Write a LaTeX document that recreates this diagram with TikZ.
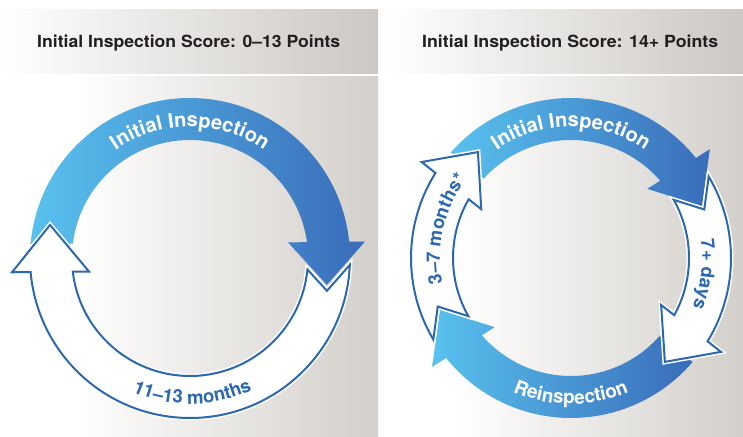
\documentclass[tikz,border=0pt]{standalone}
\usepackage{fontspec}
\usepackage{graphicx}
\newfontfamily\heros{TeX Gyre Heros}
\usetikzlibrary{decorations.text}
\definecolor{hdgray}{RGB}{204,200,195}
\definecolor{bdgray}{RGB}{211,207,202}
\definecolor{blueL}{RGB}{88,194,238}
\definecolor{blueD}{RGB}{58,108,186}
\definecolor{outl}{RGB}{44,104,176}
\definecolor{hdtext}{RGB}{35,31,32}
\pgfdeclarehorizontalshading{hdshade}{100bp}{color(0bp)=(white); color(25bp)=(white); color(75bp)=(hdgray); color(100bp)=(hdgray)}
\pgfdeclarehorizontalshading{bdshade}{100bp}{color(0bp)=(white); color(35bp)=(white); color(75bp)=(bdgray); color(100bp)=(bdgray)}
\newcommand\RingO{1.60}
\newcommand\RingI{1.18}
% intersection of line P + s n with circles
\newcommand\hcut[6]{%
 \pgfmathsetmacro\hcPn{(#1)*(\hnx)+(#2)*(\hny)}%
 \pgfmathsetmacro\hcPP{(#1)*(#1)+(#2)*(#2)}%
 \pgfmathsetmacro\hcS{0-(\hcPn)+sqrt((\hcPn)*(\hcPn)-(\hcPP)+\RingO*\RingO)}%
 \pgfmathsetmacro\hcA{atan2((#2)+(\hcS)*(\hny),(#1)+(\hcS)*(\hnx))}%
 \pgfmathsetmacro\hcA{(\hcA)-360*round(((\hcA)-(#3))/360)}%
 \expandafter\xdef\csname #6#4\endcsname{\hcA}%
 \pgfmathsetmacro\hcS{0-(\hcPn)+sqrt((\hcPn)*(\hcPn)-(\hcPP)+\RingI*\RingI)}%
 \pgfmathsetmacro\hcA{atan2((#2)+(\hcS)*(\hny),(#1)+(\hcS)*(\hnx))}%
 \pgfmathsetmacro\hcA{(\hcA)-360*round(((\hcA)-(#3))/360)}%
 \expandafter\xdef\csname #6#5\endcsname{\hcA}%
}
% notch corner: line N + t (b - T) with circle R
\newcommand\hnotch[7]{%
 \pgfmathsetmacro\hvx{(#1)-(\hTx)}%
 \pgfmathsetmacro\hvy{(#2)-(\hTy)}%
 \pgfmathsetmacro\hqa{(\hvx)*(\hvx)+(\hvy)*(\hvy)}%
 \pgfmathsetmacro\hqb{(\hNx)*(\hvx)+(\hNy)*(\hvy)}%
 \pgfmathsetmacro\hqc{(\hNx)*(\hNx)+(\hNy)*(\hNy)-(#3)*(#3)}%
 \pgfmathsetmacro\hqt{(0-(\hqb) #4 sqrt((\hqb)*(\hqb)-(\hqa)*(\hqc)))/(\hqa)}%
 \pgfmathsetmacro\hcA{atan2((\hNy)+(\hqt)*(\hvy),(\hNx)+(\hqt)*(\hvx))}%
 \pgfmathsetmacro\hcA{(\hcA)-360*round(((\hcA)-(#7))/360)}%
 \expandafter\xdef\csname #6#5\endcsname{\hcA}%
}
% #1 name #2 base angle #3 base r #4 tip angle #5 tip r #6 half width #7 gap #8 cut fraction
\newcommand\mkhead[8]{%
 \pgfmathsetmacro\hBx{(#3)*cos(#2)}%
 \pgfmathsetmacro\hBy{(#3)*sin(#2)}%
 \pgfmathsetmacro\hTx{(#5)*cos(#4)}%
 \pgfmathsetmacro\hTy{(#5)*sin(#4)}%
 \pgfmathsetmacro\hdx{(\hTx)-(\hBx)}%
 \pgfmathsetmacro\hdy{(\hTy)-(\hBy)}%
 \pgfmathsetmacro\hL{sqrt((\hdx)*(\hdx)+(\hdy)*(\hdy))}%
 \pgfmathsetmacro\hux{(\hdx)/(\hL)}%
 \pgfmathsetmacro\huy{(\hdy)/(\hL)}%
 \pgfmathsetmacro\hnx{0-(\huy)}%
 \pgfmathsetmacro\hny{\hux}%
 \pgfmathsetmacro\hOx{(\hBx)+(#6)*(\hnx)}%
 \pgfmathsetmacro\hOy{(\hBy)+(#6)*(\hny)}%
 \pgfmathsetmacro\hIx{(\hBx)-(#6)*(\hnx)}%
 \pgfmathsetmacro\hIy{(\hBy)-(#6)*(\hny)}%
 \coordinate (#1-bo) at ({100*(\hOx)},{100*(\hOy)});%
 \coordinate (#1-bi) at ({100*(\hIx)},{100*(\hIy)});%
 \coordinate (#1-T) at ({100*(\hTx)},{100*(\hTy)});%
 \hcut{\hBx}{\hBy}{#2}{Eo}{Ei}{#1}%
 \pgfmathsetmacro\hMx{(\hBx)+(#8)*(\hdx)}%
 \pgfmathsetmacro\hMy{(\hBy)+(#8)*(\hdy)}%
 \hcut{\hMx}{\hMy}{((#2)+(#4))/2}{Fo}{Fi}{#1}%
 \pgfmathsetmacro\hNx{(\hTx)+(#7)*(\hux)}%
 \pgfmathsetmacro\hNy{(\hTy)+(#7)*(\huy)}%
 \coordinate (#1-N) at ({100*(\hNx)},{100*(\hNy)});%
 \hnotch{\hOx}{\hOy}{\RingO}{+}{Co}{#1}{#4}%
 \hnotch{\hIx}{\hIy}{\RingI}{-}{Ci}{#1}{#4}%
}
\newcommand\whitetxt{\heros\bfseries\fontsize{20}{24}\selectfont\color{white}}
\newcommand\whitetxtb{\heros\bfseries\fontsize{19}{23}\selectfont\color{white}}
\newcommand\bluetxt{\heros\bfseries\fontsize{18.5}{22}\selectfont\color{outl}}
\tikzset{
 bluegrad/.style={left color=blueL, right color=blueD},
 whitearrow/.style={fill=white, draw=outl, line width=2pt, preaction={draw=white, line width=5pt}},
 hdr/.style={anchor=base west, inner sep=0pt, text=hdtext}
}
\begin{document}
\begin{tikzpicture}[x=1pt,y=1pt]
\useasboundingbox (0,0) rectangle (743,436);
\fill[white] (0,0) rectangle (743,436);
% backgrounds
\shade[shading=hdshade] (0,362) rectangle (378,426.5);
\shade[shading=bdshade] (0,0) rectangle (378,359);
\shade[shading=hdshade] (386,362) rectangle (743,426.5);
\shade[shading=bdshade] (386,0) rectangle (743,359);
% headers
\node[hdr] (hdrL) at (37,388.7) {\resizebox{303pt}{12.5pt}{\heros\bfseries Initial Inspection Score: 0–13 Points}};
\node[hdr] (hdrR) at (422,388.7) {\resizebox{296pt}{12.5pt}{\heros\bfseries Initial Inspection Score: 14+ Points}};
% left cycle
\begin{scope}[shift={(190,178)}]
 \mkhead{LA}{6.7}{1.374}{-11.1}{1.395}{0.385}{0.06}{0.6}
 \mkhead{LB}{-174.3}{1.402}{-193.3}{1.438}{0.385}{0.06}{0.6}
 \shade[bluegrad] ({\LBFo+360}:160) arc[start angle={\LBFo+360}, end angle=\LAEo, radius=160] -- (LA-bo) -- (LA-T) -- (LA-bi) -- (\LAEi:118) arc[start angle=\LAEi, end angle={\LBFi+360}, radius=118] -- cycle;
 \path[whitearrow] (\LACo:160) arc[start angle=\LACo, end angle=\LBEo, radius=160] -- (LB-bo) -- (LB-T) -- (LB-bi) -- (\LBEi:118) arc[start angle=\LBEi, end angle=\LACi, radius=118] -- (LA-N) -- cycle;
 \path[decorate, decoration={text along path, text align=center, text={|\whitetxt|Initial Inspection}}] (150:131) arc[start angle=150, end angle=30, radius=131];
 \path[decorate, decoration={text along path, text align=center, text={|\bluetxt|11–13 months}}] (221:146) arc[start angle=221, end angle=321, radius=146];
\end{scope}
% right cycle
\begin{scope}[shift={(571,178)}]
 \mkhead{RA}{39.6}{1.396}{21.6}{1.41}{0.37}{0.04}{0.6}
 \mkhead{RB}{-30.4}{1.392}{-47.9}{1.40}{0.38}{0.04}{0.6}
 \mkhead{RC}{-140.4}{1.396}{-158.4}{1.41}{0.37}{0.04}{0.6}
 \mkhead{RD}{-211.2}{1.398}{-228.7}{1.41}{0.38}{0.04}{0.6}
 \shade[bluegrad] ({\RDFo+360}:160) arc[start angle={\RDFo+360}, end angle=\RAEo, radius=160] -- (RA-bo) -- (RA-T) -- (RA-bi) -- (\RAEi:118) arc[start angle=\RAEi, end angle={\RDFi+360}, radius=118] -- cycle;
 \shade[bluegrad] (\RBFo:160) arc[start angle=\RBFo, end angle=\RCEo, radius=160] -- (RC-bo) -- (RC-T) -- (RC-bi) -- (\RCEi:118) arc[start angle=\RCEi, end angle=\RBFi, radius=118] -- cycle;
 \path[whitearrow] (\RACo:160) arc[start angle=\RACo, end angle=\RBEo, radius=160] -- (RB-bo) -- (RB-T) -- (RB-bi) -- (\RBEi:118) arc[start angle=\RBEi, end angle=\RACi, radius=118] -- (RA-N) -- cycle;
 \path[whitearrow] (\RCCo:160) arc[start angle=\RCCo, end angle=\RDEo, radius=160] -- (RD-bo) -- (RD-T) -- (RD-bi) -- (\RDEi:118) arc[start angle=\RDEi, end angle=\RCCi, radius=118] -- (RC-N) -- cycle;
 \path[decorate, decoration={text along path, text align=center, text={|\whitetxt|Initial Inspection}}] (140:131) arc[start angle=140, end angle=40, radius=131];
 \path[decorate, decoration={text along path, text align=center, text={|\whitetxtb|Reinspection}}] (220:146) arc[start angle=220, end angle=320, radius=146];
 \path[decorate, decoration={text along path, text align=center, text={|\bluetxt|3–7 months*}}] (207:131) arc[start angle=207, end angle=127, radius=131];
 \path[decorate, decoration={text along path, text align=center, text={|\bluetxt|7+ days}}] (33:131) arc[start angle=33, end angle=-47, radius=131];
\end{scope}
\end{tikzpicture}
\end{document}
